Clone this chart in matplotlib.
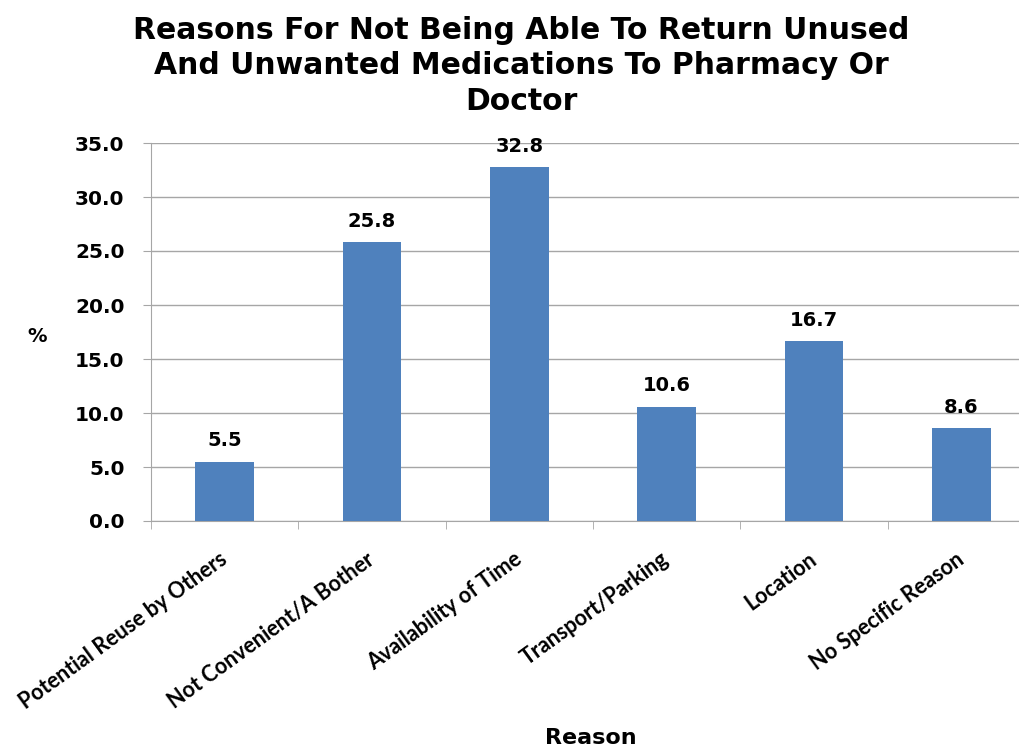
import numpy as np
import matplotlib
matplotlib.use("Agg")
import matplotlib.pyplot as plt

# data
reasons = [
    "Potential Reuse by Others",
    "Not Convenient/A Bother",
    "Availability of Time",
    "Transport/Parking",
    "Location",
    "No Specific Reason",
]
percent = [5.5, 25.8, 32.8, 10.6, 16.7, 8.6]
y_ticks = [0, 5, 10, 15, 20, 25, 30, 35]

title = "Reasons For Not Being Able To Return Unused\nAnd Unwanted Medications To Pharmacy Or\nDoctor"
bar_color = "#4F81BD"
grid_color = "#A6A6A6"

plt.rcParams["font.family"] = ["DejaVu Sans"]
plt.rcParams["font.weight"] = "bold"

fig = plt.figure(figsize=(10.2, 7.46), dpi=100)
# axes run slightly past the right edge, like the cropped original
ax = fig.add_axes([151 / 1020, 1 - 521 / 746, (1035 - 151) / 1020, (521 - 143) / 746])

x = np.arange(len(reasons))
bars = ax.bar(x, percent, width=0.4, color=bar_color, zorder=3)

for b, v in zip(bars, percent):
    ax.annotate(f"{v:.1f}", (b.get_x() + b.get_width() / 2, v),
                xytext=(0, 8), textcoords="offset points",
                ha="center", va="bottom", fontsize=14, fontweight="bold")

ax.set_xlim(-0.5, len(reasons) - 0.5)
ax.set_ylim(0, 35)
ax.set_yticks(y_ticks)
ax.set_yticklabels([f"{t:.1f}" for t in y_ticks], fontsize=14.5, fontweight="bold")
ax.yaxis.grid(True, color=grid_color, linewidth=1.0, zorder=0)
ax.set_axisbelow(True)

ax.set_xticks(x)
ax.set_xticklabels(reasons, rotation=36, ha="right", va="center",
                   rotation_mode="anchor", fontsize=15.5, fontweight="bold",
                   family=["Lato", "DejaVu Sans"])
ax.set_xticks(np.arange(len(reasons) + 1) - 0.5, minor=True)
ax.tick_params(axis="x", which="major", length=0, pad=26)
ax.tick_params(axis="x", which="minor", length=6, color=grid_color, direction="out")
ax.tick_params(axis="y", length=6, color=grid_color, pad=13)

for s in ["top", "right"]:
    ax.spines[s].set_visible(False)
for s in ["left", "bottom"]:
    ax.spines[s].set_color(grid_color)

fig.text(521 / 1020, 1 - 66 / 746, title, ha="center", va="center",
         fontsize=21.5, fontweight="bold", linespacing=1.27)
fig.text(37 / 1020, 1 - 337 / 746, "%", ha="center", va="center",
         fontsize=14, fontweight="bold")
fig.text(591 / 1020, 1 - 738 / 746, "Reason", ha="center", va="center",
         fontsize=16, fontweight="bold")

fig.savefig("out.png", dpi=100)
